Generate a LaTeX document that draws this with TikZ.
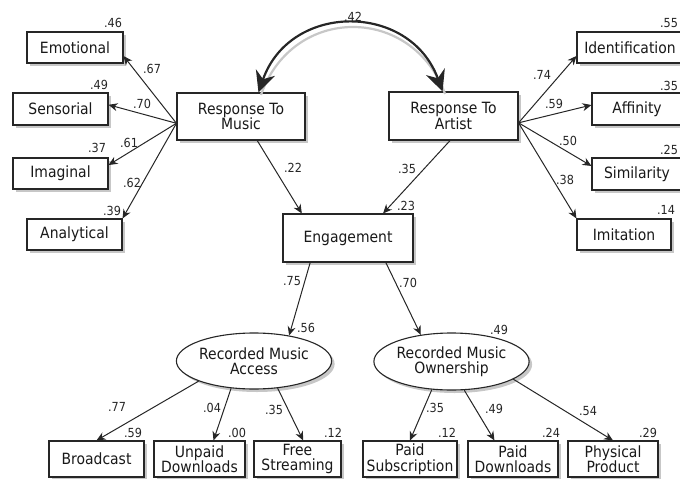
\documentclass[tikz,border=0pt]{standalone}
\usepackage{fontspec}
\setmainfont{DejaVu Sans}[FakeStretch=0.9]
\usetikzlibrary{arrows.meta,shapes.geometric,shadows}

\begin{document}
\begin{tikzpicture}[x=1pt,y=-1pt,
  boxshadow/.style={drop shadow={shadow xshift=3pt,shadow yshift=-3pt,fill=black!22,opacity=1}},
  var/.style={draw=black!85,line width=1.1pt,fill=white,boxshadow,inner sep=0pt,align=center,
    text=black!90,font=\fontsize{15.5}{15.5}\selectfont},
  obs/.style={var,rectangle},
  lat/.style={var,ellipse},
  loadarrow/.style={line width=1pt,draw=black!85,-{Stealth[length=9pt,width=8pt]}},
  coef/.style={font=\fontsize{12.5}{12.5}\selectfont,text=black!85,inner sep=0pt}]
\useasboundingbox (0,0) rectangle (680,479);

% response to music and its indicators
\node[obs,minimum width=96pt,minimum height=31pt] (emo) at (75,47.5) {Emotional};
\node[obs,minimum width=95pt,minimum height=32pt] (sen) at (60.5,109) {Sensorial};
\node[obs,minimum width=95pt,minimum height=31pt] (ima) at (60.5,173.5) {Imaginal};
\node[obs,minimum width=95pt,minimum height=31pt] (ana) at (74.5,234.5) {Analytical};
\node[obs,minimum width=128pt,minimum height=47pt] (rtm) at (241,116.5) {Response To\\Music};

% response to artist and its indicators
\node[obs,minimum width=106pt,minimum height=31pt] (ide) at (630,47.5) {Identification};
\node[obs,minimum width=90pt,minimum height=32pt] (aff) at (637,109) {Affinity};
\node[obs,minimum width=90pt,minimum height=32pt] (sim) at (637,174) {Similarity};
\node[obs,minimum width=94pt,minimum height=31pt] (imi) at (624,234.5) {Imitation};
\node[obs,minimum width=129pt,minimum height=48pt] (rta) at (453.5,116) {Response To\\Artist};

\node[obs,minimum width=130pt,minimum height=48pt] (eng) at (348,238) {Engagement};

% recorded music
\node[lat,minimum width=142pt,minimum height=56pt] (rma) at (254,361) {Recorded Music\\Access};
\node[lat,minimum width=143pt,minimum height=57pt] (rmo) at (451.5,361.5) {Recorded Music\\Ownership};

\node[obs,minimum width=95pt,minimum height=36pt] (bro) at (96.5,459) {Broadcast};
\node[obs,minimum width=91pt,minimum height=36pt] (unp) at (199.5,459) {Unpaid\\Downloads};
\node[obs,minimum width=87pt,minimum height=36pt] (fre) at (297.5,459) {Free\\Streaming};
\node[obs,minimum width=94pt,minimum height=36pt] (psu) at (410,459) {Paid\\Subscription};
\node[obs,minimum width=90pt,minimum height=36pt] (pdo) at (513,459) {Paid\\Downloads};
\node[obs,minimum width=90pt,minimum height=36pt] (phy) at (613,459) {Physical\\Product};

% correlation
\draw[line width=2.2pt,black!22,transform canvas={xshift=2.5pt,yshift=-2.5pt}]
  (rtm.54) .. controls (290,2) and (410,2) .. (rta.114);
\draw[line width=2.2pt,black!85,{Stealth[length=21pt,width=20pt,inset=7pt]}-{Stealth[length=21pt,width=20pt,inset=7pt]}]
  (rtm.54) .. controls (290,2) and (410,2) .. (rta.114);

\draw[loadarrow] (rtm.186) -- (emo.-10);
\draw[loadarrow] (rtm.186) -- (sen.5);
\draw[loadarrow] (rtm.186) -- (ima.10);
\draw[loadarrow] (rtm.186) -- (ana.north east);
\draw[loadarrow] (rta.-6) -- (ide.189);
\draw[loadarrow] (rta.-6) -- (aff.175);
\draw[loadarrow] (rta.-6) -- (sim.170);
\draw[loadarrow] (rta.-6) -- (imi.north west);
\draw[loadarrow] (rtm.-56) -- (eng.152);
\draw[loadarrow] (rta.-98) -- (eng.35);
\draw[loadarrow] (eng.213) -- (rma.36);
\draw[loadarrow] (eng.-33) -- (rmo.139);
\draw[loadarrow] (rma.200) -- (bro.north);
\draw[loadarrow] (rma.230) -- (unp.53);
\draw[loadarrow] (rma.-49) -- (fre.73);
\draw[loadarrow] (rmo.235) -- (psu.north);
\draw[loadarrow] (rmo.-66) -- (pdo.135);
\draw[loadarrow] (rmo.-16) -- (phy.north);

% coefficients
\node[coef] (c42) at (353,17) {.42};
\node[coef] (c67) at (152,69) {.67};
\node[coef] (c70a) at (142,104) {.70};
\node[coef] (c61) at (129,143) {.61};
\node[coef] (c62) at (132,183) {.62};
\node[coef] (c74) at (542,75) {.74};
\node[coef] (c59a) at (554,104) {.59};
\node[coef] (c50) at (568,141) {.50};
\node[coef] (c38) at (565,180) {.38};
\node[coef] (c22) at (293,168) {.22};
\node[coef] (c35a) at (407,169) {.35};
\node[coef] (c75) at (292,281) {.75};
\node[coef] (c70b) at (408,283) {.70};
\node[coef] (c77) at (117,407) {.77};
\node[coef] (c04) at (212,408) {.04};
\node[coef] (c35b) at (274,410) {.35};
\node[coef] (c35c) at (435,408) {.35};
\node[coef] (c49a) at (494,409) {.49};
\node[coef] (c54) at (588,411) {.54};

% squared multiple correlations
\node[coef] (r46) at (113,23) {.46};
\node[coef] (r49a) at (99,85) {.49};
\node[coef] (r37) at (97,148) {.37};
\node[coef] (r39) at (112,211) {.39};
\node[coef] (r55) at (669,23) {.55};
\node[coef] (r35a) at (669,86) {.35};
\node[coef] (r25) at (669,150) {.25};
\node[coef] (r14) at (666,210) {.14};
\node[coef] (r23) at (406,206) {.23};
\node[coef] (r56) at (306,328) {.56};
\node[coef] (r49b) at (499,330) {.49};
\node[coef] (r59) at (133,433) {.59};
\node[coef] (r00) at (237,433) {.00};
\node[coef] (r12a) at (333,433) {.12};
\node[coef] (r12b) at (447,433) {.12};
\node[coef] (r24) at (551,433) {.24};
\node[coef] (r29) at (648,433) {.29};
\end{tikzpicture}
\end{document}
